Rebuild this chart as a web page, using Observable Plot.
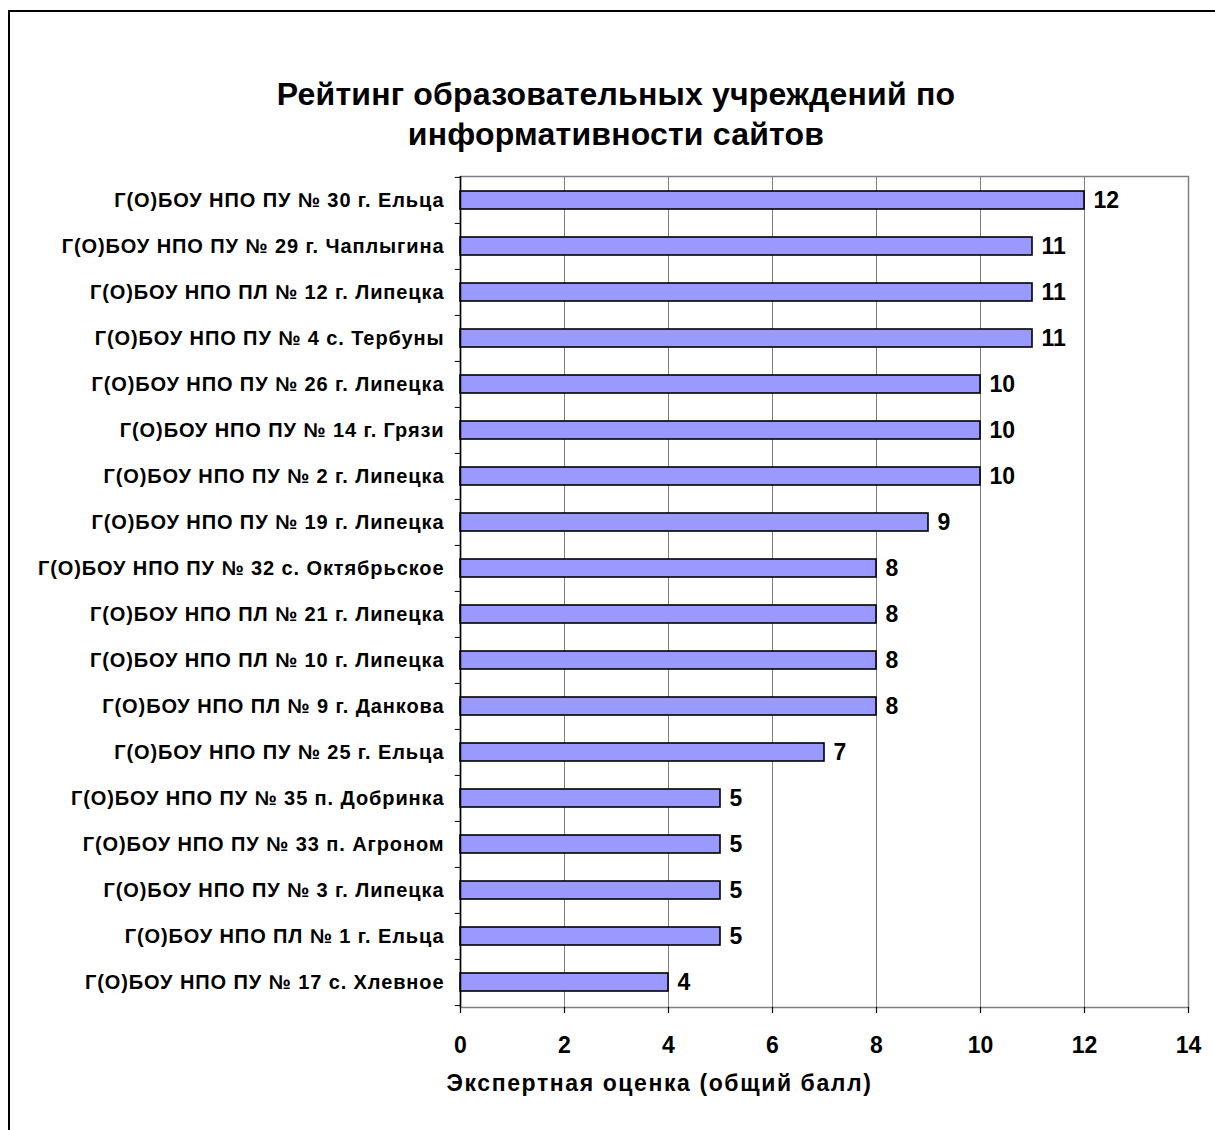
<!DOCTYPE html>
<html>
<head>
<meta charset="utf-8">
<script src="https://cdn.jsdelivr.net/npm/d3@7"></script>
<script src="https://cdn.jsdelivr.net/npm/@observablehq/plot@0.6"></script>
<style>
  html, body { margin: 0; padding: 0; background: #fff; overflow: hidden; }
  body { width: 1215px; height: 1130px; position: relative; font-family: "Liberation Sans", Arial, sans-serif; }
  #title { position: absolute; left: 0; top: 74px; width: 1232px; text-align: center; font-weight: bold; font-size: 32px; letter-spacing: 0.2px; line-height: 40px; color: #000; }
  #chart { position: absolute; left: 0; top: 165px; line-height: 0; }
  #border { position: absolute; left: 8px; top: 10px; width: 1300px; height: 1300px; border: 2px solid #000; pointer-events: none; }
  #chart g[aria-label="y-axis tick label"] text { letter-spacing: 0.9px; }
  #chart g.xtitle text { letter-spacing: 1.6px; }
</style>
</head>
<body>
<div id="title">Рейтинг образовательных учреждений по<br>информативности сайтов</div>
<div id="chart"></div>
<div id="border"></div>
<script>
const institutions = [
  "Г(О)БОУ НПО ПУ № 30 г. Ельца",
  "Г(О)БОУ НПО ПУ № 29 г. Чаплыгина",
  "Г(О)БОУ НПО ПЛ № 12 г. Липецка",
  "Г(О)БОУ НПО ПУ № 4 с. Тербуны",
  "Г(О)БОУ НПО ПУ № 26 г. Липецка",
  "Г(О)БОУ НПО ПУ № 14 г. Грязи",
  "Г(О)БОУ НПО ПУ № 2 г. Липецка",
  "Г(О)БОУ НПО ПУ № 19 г. Липецка",
  "Г(О)БОУ НПО ПУ № 32 с. Октябрьское",
  "Г(О)БОУ НПО ПЛ № 21 г. Липецка",
  "Г(О)БОУ НПО ПЛ № 10 г. Липецка",
  "Г(О)БОУ НПО ПЛ № 9 г. Данкова",
  "Г(О)БОУ НПО ПУ № 25 г. Ельца",
  "Г(О)БОУ НПО ПУ № 35 п. Добринка",
  "Г(О)БОУ НПО ПУ № 33 п. Агроном",
  "Г(О)БОУ НПО ПУ № 3 г. Липецка",
  "Г(О)БОУ НПО ПЛ № 1 г. Ельца",
  "Г(О)БОУ НПО ПУ № 17 с. Хлевное"
];
const scores = [12, 11, 11, 11, 10, 10, 10, 9, 8, 8, 8, 8, 7, 5, 5, 5, 5, 4];
const xTicks = [0, 2, 4, 6, 8, 10, 12, 14];
const xLabel = "Экспертная оценка (общий балл)";

const data = institutions.map((name, i) => ({name, score: scores[i]}));

const W = 1215, H = 965;
const mL = 460, mR = 27, mT = 11, mB = 123;
const step = (H - mT - mB) / institutions.length;

const chart = Plot.plot({
  width: W,
  height: H,
  marginLeft: mL,
  marginRight: mR,
  marginTop: mT,
  marginBottom: mB,
  style: {fontFamily: "'Liberation Sans', Arial, sans-serif", background: "transparent", color: "#000"},
  x: {domain: [0, 14], ticks: xTicks, label: null},
  y: {domain: institutions, paddingInner: 0.6, paddingOuter: 0.3, label: null},
  marks: [
    Plot.ruleX(xTicks, {x: d => d, stroke: "#808080", strokeWidth: 1, strokeOpacity: 1}),
    Plot.frame({stroke: "#808080", strokeWidth: 1.5}),
    Plot.barX(data, {x: "score", y: "name", fill: "#9999FF", stroke: "#000", strokeWidth: 1.6}),
    Plot.text(data, {x: "score", y: "name", text: d => String(d.score), textAnchor: "start", dx: 9, fontSize: 23, fontWeight: "bold", fill: "#000"}),
    Plot.ruleY(institutions, {y: d => d, x1: -0.1, x2: 0, dy: -step / 2, stroke: "#000", strokeWidth: 1}),
    Plot.ruleY([institutions[institutions.length - 1]], {y: d => d, x1: -0.1, x2: 0, dy: step / 2, stroke: "#000", strokeWidth: 1}),
    Plot.axisY({tickSize: 0, tickPadding: 16, fontSize: 20, fontWeight: "bold", label: null}),
    Plot.axisX({ticks: xTicks, tickSize: 6, tickPadding: 23, fontSize: 23, fontWeight: "bold", label: null, stroke: "#000", strokeWidth: 1.2}),
    Plot.ruleX([0], {stroke: "#000", strokeWidth: 1.5}),
    Plot.ruleY([0], {frameAnchor: "bottom", stroke: "#000", strokeWidth: 1.5}),
    Plot.text([xLabel], {frameAnchor: "bottom", dx: -165, dy: 83, text: d => d, fontSize: 23, fontWeight: "bold", fill: "#000", className: "xtitle"})
  ]
});
document.getElementById("chart").appendChild(chart);
</script>
</body>
</html>
